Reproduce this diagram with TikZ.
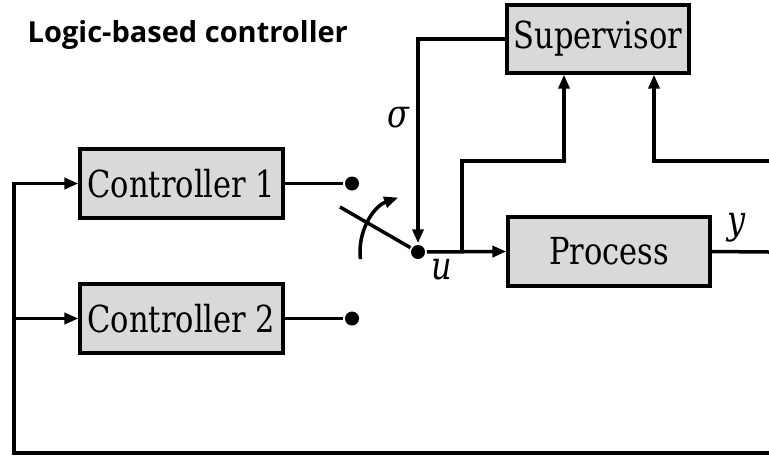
\documentclass[tikz,border=0pt]{standalone}
\usepackage{fontspec}
\setmainfont[FakeStretch=0.82]{DejaVu Serif}
\newfontfamily\titlefont{Open Sans}
\usepackage{tikz}
\usetikzlibrary{arrows.meta, positioning, calc}
\definecolor{blockgray}{RGB}{217,217,217}

\begin{document}
\begin{tikzpicture}[x=0.5pt, y=-0.5pt, line width=1.75pt, >={Triangle[length=7pt,width=5.5pt]}]
  \tikzstyle{block} = [rectangle, draw=black, fill=blockgray, line width=1.6pt, minimum height=34.5pt, inner sep=0pt, font=\fontsize{18.6}{22}\selectfont]
  \tikzstyle{dot} = [circle, fill=black, inner sep=0pt, minimum size=7pt]
  \tikzstyle{sym} = [font=\fontsize{19.5}{24}\selectfont\itshape, inner sep=0pt]

  \useasboundingbox (0,0) rectangle (769,456);

  \node [anchor=base west, inner sep=0pt, font=\titlefont\bfseries\fontsize{14.5}{17}\selectfont] (title) at (26,42) {Logic-based controller};

  \node [block, minimum width=91pt, minimum height=34pt] (sup) at (598,39) {Supervisor};
  \node [block, minimum width=101.5pt] (ctrlA) at (181.5,183.5) {Controller 1};
  \node [block, minimum width=101.5pt] (ctrlB) at (181.5,318.5) {Controller 2};
  \node [block, minimum width=101pt] (proc) at (609,251.5) {Process};

  \node [dot] (dotA) at (352,183.5) {};
  \node [dot] (dotB) at (352,318.5) {};
  \node [dot] (piv) at (418,252) {};

  \coordinate (blade) at (340,207);
  \coordinate (tap) at ($(piv)!0.5!(proc.west)$);
  \coordinate (yout) at (769,252);
  \coordinate (fbtop) at (769,161);
  \coordinate (fbin) at (769,453);
  \coordinate (fbleft) at (14,453);

  \draw (ctrlA.east) -- (dotA);
  \draw (ctrlB.east) -- (dotB);

  % switch
  \draw (blade) -- (piv);
  \draw[->] (piv) ++(187:29pt) arc[start angle=187, end angle=110, radius=29pt];

  \draw[->] (sup.west) -| (piv);
  \draw[->] (piv) -- (proc.west);
  \draw[->] (tap) -- ++(0,-91) -| ([xshift=-17pt]sup.south);
  \draw[->] (fbtop) -| ([xshift=28pt]sup.south);
  \draw (proc.east) -- (yout);

  % feedback to controllers
  \draw[->] (fbin) -- (fbleft) |- (ctrlA.west);
  \draw[->] (fbleft |- ctrlB.west) -- (ctrlB.west);

  \node [sym] (sigmalbl) at (398,118) {σ};
  \node [sym] (ulbl) at (442,270) {u};
  \node [sym] (ylbl) at (737,228) {y};
\end{tikzpicture}
\end{document}
